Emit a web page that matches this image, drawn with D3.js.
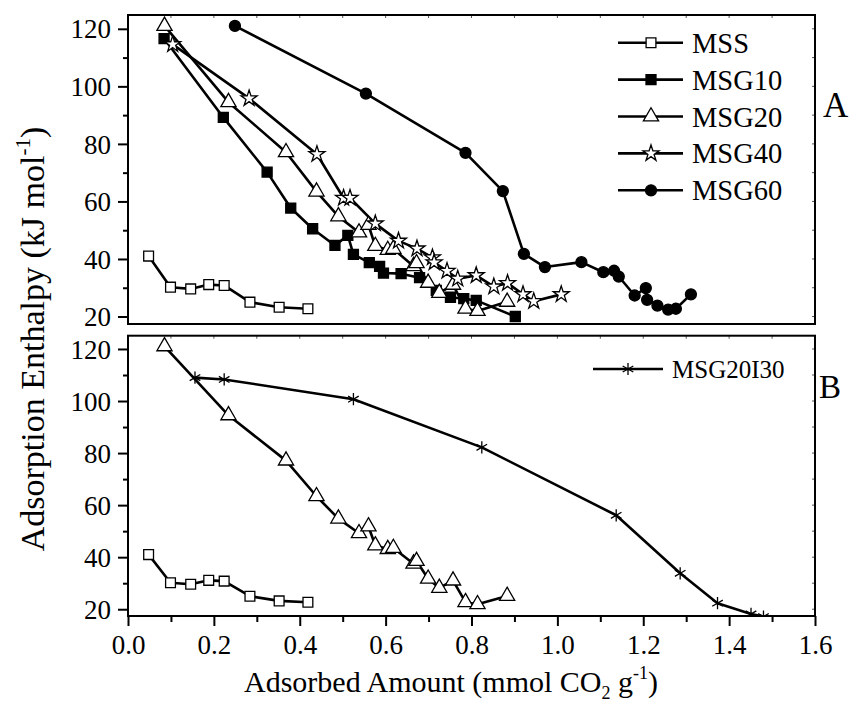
<!DOCTYPE html>
<html><head><meta charset="utf-8">
<script src="https://cdn.jsdelivr.net/npm/d3@7"></script>
<style>
html,body{margin:0;padding:0;background:#fff;}
text{font-family:"Liberation Serif","Times New Roman",serif;fill:#000;}
</style></head>
<body><svg id="c" width="849" height="702"></svg>
<script>
// ---- data ----
const MSS_x   = [0.048,0.099,0.146,0.188,0.224,0.284,0.352,0.419];
const MSS_y   = [41.0,30.2,29.6,31.1,30.8,25.0,23.2,22.7];
const MSG10_x = [0.084,0.222,0.324,0.379,0.430,0.482,0.512,0.525,0.562,0.586,0.595,0.636,0.679,0.718,0.751,0.782,0.811,0.902];
const MSG10_y = [116.6,89.2,70.2,57.7,50.5,44.7,48.2,41.6,38.7,37.4,35.1,34.9,33.5,29.1,26.7,26.2,25.6,20.0];
const MSG20_x = [0.085,0.234,0.368,0.439,0.490,0.538,0.560,0.576,0.605,0.618,0.665,0.672,0.699,0.725,0.757,0.786,0.814,0.883];
const MSG20_y = [121.0,94.5,77.1,63.4,54.8,49.2,51.8,44.5,43.1,43.5,37.5,38.5,31.7,28.2,31.0,22.7,21.9,25.1];
const MSG40_x = [0.104,0.282,0.440,0.502,0.517,0.576,0.630,0.673,0.709,0.713,0.743,0.768,0.811,0.852,0.884,0.920,0.945,1.009];
const MSG40_y = [114.6,95.8,76.4,61.2,61.2,52.3,46.3,43.6,40.5,38.8,35.8,33.1,34.3,30.4,31.6,27.7,25.3,27.7];
const MSG60_x = [0.249,0.554,0.786,0.873,0.922,0.971,1.056,1.107,1.132,1.143,1.180,1.206,1.209,1.233,1.258,1.276,1.311];
const MSG60_y = [121.0,97.5,76.9,63.6,41.8,37.2,38.9,35.4,35.9,33.9,27.3,29.9,25.8,23.8,22.4,22.7,27.7];
const MSG20I30_x = [0.156,0.224,0.525,0.824,1.137,1.286,1.373,1.451,1.480];
const MSG20I30_y = [109.0,108.3,100.7,82.2,56.1,33.8,22.3,18.2,17.2];

const xTicks = [0,0.2,0.4,0.6,0.8,1.0,1.2,1.4,1.6];
const yTicks = [20,40,60,80,100,120];
const legendA = ["MSS","MSG10","MSG20","MSG40","MSG60"];
const legendB = ["MSG20I30"];

// ---- marker shapes ----
const asterisk = {draw(ctx,size){const r=Math.sqrt(size)/2;
  const a=Math.PI/180;
  [90,30,150].forEach(d=>{const dx=r*Math.cos(d*a), dy=r*Math.sin(d*a);
    ctx.moveTo(-dx,-dy);ctx.lineTo(dx,dy);});}};
const styles = {
  MSS:{type:d3.symbolSquare,size:96,fill:"#fff"},
  MSG10:{type:d3.symbolSquare,size:100,fill:"#000"},
  MSG20:{type:d3.symbolTriangle,size:100,fill:"#fff"},
  MSG40:{type:d3.symbolStar,size:80,fill:"#fff"},
  MSG60:{type:d3.symbolCircle,size:95,fill:"#000"},
  MSG20I30:{type:asterisk,size:150,fill:"none"}
};
const series = {
  MSS:[MSS_x,MSS_y],MSG10:[MSG10_x,MSG10_y],MSG20:[MSG20_x,MSG20_y],
  MSG40:[MSG40_x,MSG40_y],MSG60:[MSG60_x,MSG60_y],MSG20I30:[MSG20I30_x,MSG20I30_y]
};

const svg = d3.select("#c");
const X0=128, X1=815;
const x = d3.scaleLinear().domain([0,1.6]).range([X0,X1]);
const panels = [
  {top:15, bot:324, dom:[17.4,124.8], names:["MSS","MSG10","MSG20","MSG40","MSG60"], xlabels:false},
  {top:335.7, bot:616, dom:[17.4,125.1], names:["MSS","MSG20","MSG20I30"], xlabels:true}
];

function sym(name){const s=styles[name];return d3.symbol().type(s.type).size(s.size)();}
function drawMarker(g,name,cx,cy){
  const s=styles[name];
  g.append("path").attr("d",sym(name)).attr("transform",`translate(${cx},${cy})`)
   .attr("fill",s.fill).attr("stroke","#000").attr("stroke-width",1.3);
}

panels.forEach((p,pi)=>{
  const y = d3.scaleLinear().domain(p.dom).range([p.bot,p.top]);
  const g = svg.append("g");
  const clipId="clip"+pi;
  svg.append("clipPath").attr("id",clipId).append("rect")
    .attr("x",X0).attr("y",p.top).attr("width",X1-X0).attr("height",p.bot-p.top);
  const yAx = g.append("g").attr("transform",`translate(${X0},0)`)
    .call(d3.axisLeft(y).tickValues(yTicks).tickSize(10).tickPadding(7).tickFormat(d3.format("d")));
  yAx.select(".domain").remove();
  yAx.selectAll("line").attr("stroke-width",2);
  yAx.selectAll("text").attr("font-size",27).attr("dy","0.34em");
  const yMin = g.append("g").attr("transform",`translate(${X0},0)`)
    .call(d3.axisLeft(y).tickValues([30,50,70,90,110]).tickSize(5).tickFormat(""));
  yMin.select(".domain").remove(); yMin.selectAll("line").attr("stroke-width",2);
  const xt = d3.range(0,1.61,0.1);
  g.selectAll(".tt").data(xt).enter().append("line")
    .attr("x1",d=>x(d)).attr("x2",d=>x(d)).attr("y1",p.top).attr("y2",p.top+3)
    .attr("stroke","#555").attr("stroke-width",1);
  g.selectAll(".rt").data(d3.range(20,121,10)).enter().append("line")
    .attr("x1",X1).attr("x2",X1-3).attr("y1",d=>y(d)).attr("y2",d=>y(d))
    .attr("stroke","#555").attr("stroke-width",1);
  if(p.xlabels){
    const xAx = g.append("g").attr("transform",`translate(0,${p.bot})`)
      .call(d3.axisBottom(x).tickValues(xTicks).tickSize(10).tickPadding(9).tickFormat(d3.format(".1f")));
    xAx.select(".domain").remove(); xAx.selectAll("line").attr("stroke-width",2);
    xAx.selectAll("text").attr("font-size",27);
    const xMin = g.append("g").attr("transform",`translate(0,${p.bot})`)
      .call(d3.axisBottom(x).tickValues([0.1,0.3,0.5,0.7,0.9,1.1,1.3,1.5]).tickSize(6).tickFormat(""));
    xMin.select(".domain").remove(); xMin.selectAll("line").attr("stroke-width",2);
  }
  g.append("rect").attr("x",X0).attr("y",p.top).attr("width",X1-X0).attr("height",p.bot-p.top)
    .attr("fill","none").attr("stroke","#000").attr("stroke-width",2);
  const plot = g.append("g").attr("clip-path",`url(#${clipId})`);
  const line = d3.line().x(d=>x(d[0])).y(d=>y(d[1]));
  p.names.forEach(n=>{
    const [xs,ys]=series[n];
    const pts = xs.map((v,i)=>[v,ys[i]]);
    plot.append("path").attr("d",line(pts)).attr("fill","none").attr("stroke","#000")
      .attr("stroke-width",2.6).attr("stroke-linejoin","round");
  });
  p.names.forEach(n=>{
    const [xs,ys]=series[n];
    xs.forEach((v,i)=>drawMarker(plot,n,x(v),y(ys[i])));
  });
});

legendA.forEach((n,i)=>{
  const cy = 42.7 + i*36.9;
  svg.append("line").attr("x1",618).attr("x2",683).attr("y1",cy).attr("y2",cy)
    .attr("stroke","#000").attr("stroke-width",2.6);
  drawMarker(svg,n,651,cy);
  svg.append("text").attr("x",692).attr("y",cy+10).attr("font-size",28.5).text(n);
});
legendB.forEach((n,i)=>{
  const cy = 369;
  svg.append("line").attr("x1",593).attr("x2",663).attr("y1",cy).attr("y2",cy)
    .attr("stroke","#000").attr("stroke-width",2.6);
  drawMarker(svg,n,628,cy);
  svg.append("text").attr("x",672).attr("y",cy+9).attr("font-size",25).text(n);
});
svg.append("text").attr("x",823).attr("y",117).attr("font-size",35).text("A");
svg.append("text").attr("x",819).attr("y",398).attr("font-size",33).text("B");

const xt = svg.append("text").attr("x",244).attr("y",692).attr("font-size",30);
xt.append("tspan").text("Adsorbed Amount (mmol CO");
xt.append("tspan").attr("font-size",18).attr("dy",7).text("2");
xt.append("tspan").attr("dy",-7).text(" g");
xt.append("tspan").attr("font-size",18).attr("dy",-13).text("-1");
xt.append("tspan").attr("dy",13).text(")");

const yt = svg.append("text").attr("transform","translate(44,339) rotate(-90)")
  .attr("text-anchor","middle").attr("font-size",34);
yt.append("tspan").text("Adsorption Enthalpy (kJ mol");
yt.append("tspan").attr("font-size",21).attr("dy",-14).text("-1");
yt.append("tspan").attr("dy",14).text(")");
</script></body></html>
